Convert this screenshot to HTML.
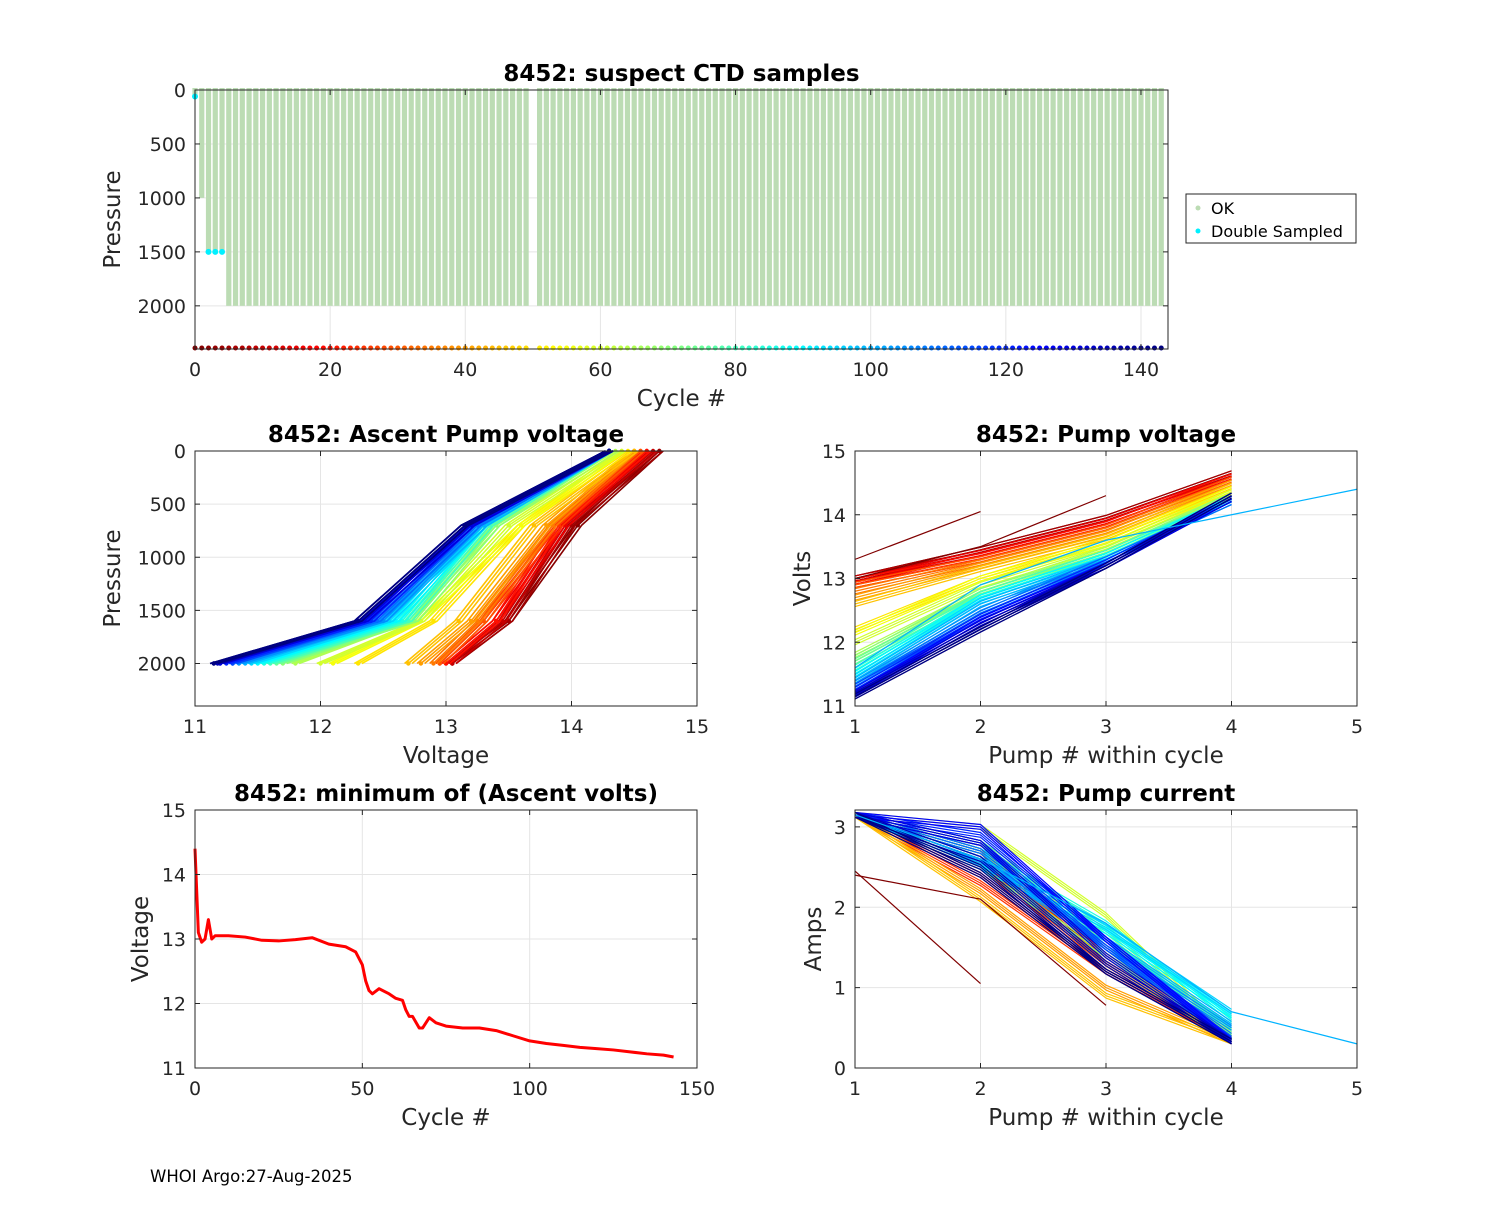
<!DOCTYPE html>
<html><head><meta charset="utf-8"><style>
body{margin:0;background:#fff;width:1500px;height:1200px;overflow:hidden}
svg{font-family:"DejaVu Sans","Liberation Sans",sans-serif}
</style></head><body>
<svg id="s" width="1500" height="1200" xmlns="http://www.w3.org/2000/svg"></svg>
<script>
// ---- data ----
const maxPressCycles=[0,1,2,3,4];
const maxPressEarly=[60,1000,1500,1500,1500];
const deepPress=2000;
const missingCycle=50;
const doubleCycles=[0,2,3,4];
const doublePress=[60,1500,1500,1500];
const minCycles=[0,1,2,3,4,5,6,8,10,15,20,25,30,35,40,45,48,50,51,52,53,55,58,60,62,63,64,65,67,68,70,72,75,80,85,90,95,100,105,110,115,120,125,130,135,140,143];
const minVolts=[14.4,13.1,12.95,13.0,13.3,13.0,13.05,13.05,13.05,13.03,12.98,12.97,12.99,13.02,12.92,12.88,12.8,12.6,12.35,12.2,12.15,12.23,12.15,12.08,12.05,11.9,11.8,11.8,11.62,11.62,11.78,11.7,11.65,11.62,11.62,11.58,11.5,11.42,11.38,11.35,11.32,11.3,11.28,11.25,11.22,11.2,11.17];
const repCycles=[1,5,10,15,20,25,30,35,40,45,50,55,60,65,70,75,80,85,90,95,100,105,110,115,120,125,130,135,140,143];
const ascPress=[2000,1600,700,0];
const asc=[[13.05,13.5,14.05,14.7],[13.05,13.5,14.0,14.7],[13.05,13.45,13.95,14.65],[13.0,13.4,13.95,14.6],[13.0,13.4,13.9,14.6],[12.95,13.3,13.9,14.55],[12.95,13.3,13.85,14.55],[12.9,13.25,13.85,14.5],[12.8,13.2,13.8,14.5],[12.7,13.1,13.7,14.5],[12.3,12.9,13.6,14.45],[12.1,12.8,13.6,14.4],[12.0,12.8,13.5,14.4],[11.8,12.7,13.4,14.35],[11.7,12.75,13.4,14.3],[11.65,12.7,13.35,14.3],[11.6,12.7,13.35,14.3],[11.55,12.65,13.3,14.3],[11.5,12.6,13.3,14.3],[11.45,12.55,13.3,14.3],[11.4,12.5,13.3,14.3],[11.35,12.5,13.25,14.3],[11.3,12.45,13.25,14.3],[11.3,12.4,13.2,14.3],[11.25,12.4,13.2,14.3],[11.2,12.35,13.2,14.3],[11.2,12.35,13.2,14.3],[11.18,12.3,13.15,14.3],[11.15,12.3,13.15,14.3],[11.15,12.3,13.15,14.3]];
const pv=[[13.0,13.45,13.95,14.65],[13.0,13.45,13.95,14.65],[13.0,13.4,13.9,14.6],[12.95,13.4,13.9,14.6],[12.95,13.35,13.85,14.6],[12.9,13.3,13.8,14.55],[12.9,13.3,13.8,14.55],[12.8,13.25,13.75,14.5],[12.7,13.2,13.7,14.5],[12.6,13.15,13.65,14.45],[12.2,13.0,13.6,14.4],[12.15,13.0,13.55,14.4],[12.0,12.9,13.5,14.35],[11.8,12.8,13.45,14.3],[11.75,12.8,13.4,14.3],[11.7,12.75,13.4,14.25],[11.6,12.75,13.4,14.25],[11.55,12.7,13.35,14.25],[11.5,12.7,13.35,14.25],[11.45,12.65,13.3,14.2],[11.4,12.6,13.3,14.2],[11.35,12.5,13.3,14.2],[11.3,12.45,13.3,14.2],[11.3,12.4,13.25,14.25],[11.25,12.4,13.25,14.25],[11.2,12.35,13.2,14.25],[11.2,12.3,13.2,14.25],[11.18,12.25,13.2,14.3],[11.15,12.2,13.2,14.3],[11.15,12.2,13.2,14.3]];
const cur=[[3.15,2.7,1.3,0.35],[3.15,2.6,1.3,0.35],[3.15,2.7,1.4,0.35],[3.15,2.5,1.3,0.35],[3.15,2.4,1.2,0.35],[3.15,2.3,1.2,0.35],[3.15,2.5,1.3,0.35],[3.15,2.6,1.4,0.35],[3.15,2.2,1.0,0.33],[3.15,2.1,0.9,0.33],[3.15,2.6,1.3,0.35],[3.15,2.8,1.5,0.35],[3.15,3.0,1.9,0.4],[3.15,2.7,1.6,0.4],[3.15,2.5,1.4,0.4],[3.15,2.8,1.7,0.45],[3.15,2.6,1.6,0.5],[3.15,2.7,1.8,0.6],[3.15,2.5,1.7,0.65],[3.15,2.6,1.75,0.7],[3.15,2.55,1.6,0.55],[3.15,2.6,1.5,0.5],[3.15,2.7,1.5,0.4],[3.15,2.8,1.5,0.35],[3.15,2.9,1.6,0.35],[3.15,3.0,1.6,0.33],[3.15,2.8,1.4,0.33],[3.15,2.6,1.3,0.33],[3.15,2.5,1.2,0.33],[3.15,2.4,1.2,0.33]];
const fivePumpV=[11.6,12.9,13.6,14.0,14.4];
const fivePumpC=[3.15,2.6,1.8,0.7,0.3];
const earlyV1=[13.3,14.05];
const earlyV2=[13.0,13.5,14.3];
const earlyC1=[2.45,1.05];
const earlyC2=[2.4,2.1,0.78];

// ---- helpers ----
const S=document.getElementById('s');const NS='http://www.w3.org/2000/svg';
function el(t,a,p){const e=document.createElementNS(NS,t);for(const k in a)e.setAttribute(k,a[k]);(p||S).appendChild(e);return e;}
function jet(t){t=Math.max(0,Math.min(1,t));const f=x=>Math.round(255*Math.max(0,Math.min(1,1.5-Math.abs(4*t-x))));return `rgb(${f(3)},${f(2)},${f(1)})`;}
function cc(c){return jet(1-c/143);}
function axes(o){
 const g=el('g',{});
 
 
 el('rect',{x:o.x0,y:o.y0,width:o.x1-o.x0,height:o.y1-o.y0,fill:'#fff'},g);
 o.sx=v=>o.x0+(v-o.xmin)/(o.xmax-o.xmin)*(o.x1-o.x0);
 o.sy=v=>o.yrev? o.y0+(v-o.ymin)/(o.ymax-o.ymin)*(o.y1-o.y0) : o.y1-(v-o.ymin)/(o.ymax-o.ymin)*(o.y1-o.y0);
 o.xt.forEach(v=>{const x=o.sx(v);el('line',{x1:x,x2:x,y1:o.y0,y2:o.y1,stroke:'#e5e5e5'},g);
  const t=el('text',{x:x,y:o.y1+27,'text-anchor':'middle','font-size':19,fill:'#262626'},g);t.textContent=v;
  });
 o.yt.forEach(v=>{const y=o.sy(v);el('line',{x1:o.x0,x2:o.x1,y1:y,y2:y,stroke:'#e5e5e5'},g);
  const t=el('text',{x:o.x0-9,y:y+7,'text-anchor':'end','font-size':19,fill:'#262626'},g);t.textContent=v;
  });
 o.g=el('g',{},g);
 const ti=el('text',{x:(o.x0+o.x1)/2,y:o.y0-9,'text-anchor':'middle','font-size':23,'font-weight':'bold',fill:'#000'});ti.textContent=o.title;
 
 const xl=el('text',{x:(o.x0+o.x1)/2,y:o.y1+57,'text-anchor':'middle','font-size':23,fill:'#262626'});xl.textContent=o.xl;
 
 const yl=el('text',{x:0,y:0,'text-anchor':'middle','font-size':23,fill:'#262626',transform:`translate(${o.x0-o.ylo},${(o.y0+o.y1)/2}) rotate(-90)`});yl.textContent=o.yl;
 
 return o;}
function frame(o){const g=el('g',{fill:'none',stroke:'#262626','stroke-width':1});
 el('rect',{x:o.x0,y:o.y0,width:o.x1-o.x0,height:o.y1-o.y0},g);
 o.xt.forEach(v=>{const x=o.sx(v);el('line',{x1:x,x2:x,y1:o.y1,y2:o.y1-5},g);el('line',{x1:x,x2:x,y1:o.y0,y2:o.y0+5},g);});
 o.yt.forEach(v=>{const y=o.sy(v);el('line',{x1:o.x0,x2:o.x0+5,y1:y,y2:y},g);el('line',{x1:o.x1,x2:o.x1-5,y1:y,y2:y},g);});}
function poly(o,xs,ys,col,w,name){const p=el('polyline',{points:xs.map((x,i)=>o.sx(x)+','+o.sy(ys[i])).join(' '),fill:'none',stroke:col,'stroke-width':w,'stroke-linejoin':'round'},o.g);
 return p;}

// ---- top ----
const A=axes({name:'suspect-ctd-chart',x0:195,x1:1168,y0:90,y1:349,xmin:0,xmax:144,ymin:0,ymax:2400,yrev:true,xt:[0,20,40,60,80,100,120,140],yt:[0,500,1000,1500,2000],title:'8452: suspect CTD samples',xl:'Cycle #',yl:'Pressure',ylo:75});
for(let c=0;c<=143;c++){if(c===missingCycle)continue;const i=maxPressCycles.indexOf(c);const mp=i>=0?maxPressEarly[i]:deepPress;
 const r=el('rect',{x:A.sx(c)-2.6,y:A.sy(0)-2,width:5.2,height:A.sy(mp)-A.sy(0)+2,fill:'#bcdcb4'},A.g);
 
 const d=el('circle',{cx:A.sx(c),cy:A.sy(2400)-1,r:2.5,fill:cc(c)},A.g);
 }
doubleCycles.forEach((c,i)=>{const d=el('circle',{cx:A.sx(c),cy:A.sy(doublePress[i]),r:3,fill:'#00f0ff'},A.g);
 });
frame(A);
const lg=el('g',{});
el('rect',{x:1186,y:194,width:170,height:49,fill:'#fff',stroke:'#262626'},lg);
el('circle',{cx:1198,cy:208,r:2.5,fill:'#bcdcb4'},lg);el('circle',{cx:1198,cy:231,r:2.5,fill:'#00f0ff'},lg);
let t=el('text',{x:1211,y:214,'font-size':16,fill:'#000'},lg);t.textContent='OK';
t=el('text',{x:1211,y:237,'font-size':16,fill:'#000'},lg);t.textContent='Double Sampled';

// ---- ascent ----
const B=axes({name:'ascent-pump-voltage-chart',x0:195,x1:697,y0:451,y1:706,xmin:11,xmax:15,ymin:0,ymax:2400,yrev:true,xt:[11,12,13,14,15],yt:[0,500,1000,1500,2000],title:'8452: Ascent Pump voltage',xl:'Voltage',yl:'Pressure',ylo:75});
repCycles.forEach((c,i)=>{for(let k=-1;k<=1;k++){poly(B,asc[i].map(v=>v+k*0.03),ascPress,cc(c),1.6,'ascent-line');}
 asc[i].forEach((v,j)=>{const d=el('circle',{cx:B.sx(v),cy:B.sy(ascPress[j]),r:2.2,fill:cc(c)},B.g);});});
frame(B);

// ---- pump voltage ----
const C=axes({name:'pump-voltage-chart',x0:855,x1:1357,y0:451,y1:706,xmin:1,xmax:5,ymin:11,ymax:15,xt:[1,2,3,4,5],yt:[11,12,13,14,15],title:'8452: Pump voltage',xl:'Pump # within cycle',yl:'Volts',ylo:45});
repCycles.forEach((c,i)=>{for(let k=-1;k<=1;k++)poly(C,[1,2,3,4],pv[i].map(v=>v+k*0.04),cc(c),1.2,'pump-voltage-line');});
poly(C,[1,2,3,4,5],fivePumpV,cc(100),1.2,'pump-voltage-line-5');
poly(C,[1,2],earlyV1,cc(0),1.2,'pump-voltage-line-early');
poly(C,[1,2,3],earlyV2,cc(0),1.2,'pump-voltage-line-early');
frame(C);

// ---- min volts ----
const D=axes({name:'min-ascent-volts-chart',x0:195,x1:697,y0:810,y1:1068,xmin:0,xmax:150,ymin:11,ymax:15,xt:[0,50,100,150],yt:[11,12,13,14,15],title:'8452: minimum of (Ascent volts)',xl:'Cycle #',yl:'Voltage',ylo:47});
poly(D,minCycles,minVolts,'#ff0000',3,'min-volts-line');
frame(D);

// ---- pump current ----
const E=axes({name:'pump-current-chart',x0:855,x1:1357,y0:810,y1:1068,xmin:1,xmax:5,ymin:0,ymax:3.21,xt:[1,2,3,4,5],yt:[0,1,2,3],title:'8452: Pump current',xl:'Pump # within cycle',yl:'Amps',ylo:34});
repCycles.forEach((c,i)=>{for(let k=-1;k<=1;k++)poly(E,[1,2,3,4],cur[i].map(v=>v+k*0.03),cc(c),1.2,'pump-current-line');});
poly(E,[1,2,3,4,5],fivePumpC,cc(100),1.2,'pump-current-line-5');
poly(E,[1,2],earlyC1,cc(0),1.2,'pump-current-line-early');
poly(E,[1,2,3],earlyC2,cc(0),1.2,'pump-current-line-early');
frame(E);

t=el('text',{x:150,y:1182,'font-size':16.5,fill:'#000'});t.textContent='WHOI Argo:27-Aug-2025';

</script>
</body></html>
